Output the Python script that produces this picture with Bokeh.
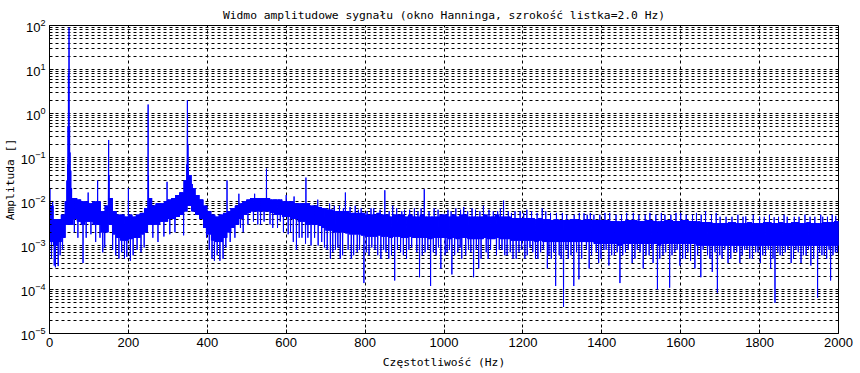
import numpy as np
from bokeh.plotting import figure
from bokeh.models import Range1d, FixedTicker, LogTickFormatter
from bokeh.embed import file_html
from bokeh.resources import INLINE

# ---------------- data ----------------
MILLI = 1e-3          # band values below are in units of 1e-3
BIN_HZ = 10           # width of one band bin (Hz)
STEP_HZ = 0.5         # spectral line spacing (Hz)

# upper / lower edge of the dense noise band, one value per 10 Hz bin (x1e-3)
band_hi = [8, 4, 4, 5, 10, 12, 12, 11, 10, 10,
           9, 10, 10, 6, 8, 12, 6, 5, 5, 4.5,
           5, 4.5, 5, 5.5, 7, 12, 8, 9, 9, 10,
           11, 12, 14, 16, 30, 40, 20, 14, 11, 8,
           6, 5, 4.5, 5, 5.5, 6, 7, 8, 9, 10,
           11, 12, 12, 12, 12, 12, 11, 11, 11, 10,
           10, 10, 9, 9, 9, 9, 8, 8, 7.5, 7,
           6.5, 6.5, 6, 6, 6, 6, 5.5, 5.5, 5.5, 5.5,
           5, 5, 5, 5.5, 5, 5, 4.5, 5, 5, 5,
           4.5, 5, 4.5, 4.5, 5, 4.5, 4.5, 4.5, 4.5, 5,
           5, 4.5, 5, 4.5, 5, 5, 4.5, 4.5, 4.5, 4.5,
           5, 4.5, 4.5, 5, 4.5, 4.5, 4.5, 4.2, 4.2, 4.2,
           4.2, 4.2, 4.2, 4, 4.2, 4, 4, 3.8, 4, 3.8,
           3.8, 3.8, 4, 4, 3.8, 3.8, 4, 3.8, 3.8, 3.8,
           3.8, 3.8, 3.6, 3.6, 3.5, 3.6, 3.8, 3.8, 3.8, 3.6,
           3.6, 3.8, 3.8, 3.6, 3.5, 3.6, 3.8, 3.8, 3.6, 3.6,
           3.8, 3.8, 3.6, 3.6, 3.5, 3.4, 3.4, 3.4, 3.2, 3.2,
           3.2, 3.2, 3.4, 3.4, 3.2, 3.2, 3.2, 3.4, 3.2, 3.2,
           3.2, 3.4, 3.4, 3.2, 3.2, 3.4, 3.2, 3.2, 3.4, 3.4,
           3.2, 3.2, 3.4, 3.2, 3.2, 3.2, 3.4, 3.4, 3.4, 3.6]

band_lo = [1.2, 1.0, 1.2, 1.5, 3, 3, 4, 3.5, 3, 3.5,
           3.5, 3, 3, 2, 2, 3, 1.8, 1.5, 1.3, 1.3,
           1.4, 1.5, 1.5, 1.8, 2, 3, 3, 3, 3.5, 3.5,
           4, 4, 4.5, 5, 6, 8, 6, 5, 4, 2.5,
           1.8, 1.3, 1.2, 1.2, 1.5, 2, 2.5, 3, 4, 5,
           5.5, 6, 6, 6, 6, 6, 5.5, 5, 5, 4.5,
           4.5, 4, 4, 3.5, 3.5, 3, 3, 3, 2.8, 2.5,
           2.2, 2.2, 2, 2, 2, 1.9, 1.8, 1.8, 1.8, 1.7,
           1.6, 1.6, 1.6, 1.7, 1.6, 1.6, 1.5, 1.6, 1.6, 1.5,
           1.5, 1.6, 1.5, 1.5, 1.5, 1.5, 1.4, 1.5, 1.5, 1.5,
           1.5, 1.4, 1.5, 1.4, 1.5, 1.5, 1.4, 1.4, 1.4, 1.4,
           1.5, 1.4, 1.4, 1.5, 1.4, 1.4, 1.4, 1.3, 1.3, 1.3,
           1.3, 1.3, 1.3, 1.2, 1.3, 1.2, 1.2, 1.2, 1.2, 1.2,
           1.2, 1.2, 1.2, 1.2, 1.2, 1.2, 1.2, 1.2, 1.1, 1.1,
           1.1, 1.1, 1.1, 1.1, 1.0, 1.1, 1.1, 1.1, 1.1, 1.1,
           1.1, 1.1, 1.1, 1.1, 1.0, 1.1, 1.1, 1.1, 1.1, 1.1,
           1.1, 1.1, 1.1, 1.1, 1.0, 1.0, 1.0, 1.0, 1.0, 1.0,
           1.0, 1.0, 1.0, 1.0, 1.0, 1.0, 1.0, 1.0, 1.0, 1.0,
           1.0, 1.0, 1.0, 1.0, 1.0, 1.0, 1.0, 1.0, 1.0, 1.0,
           1.0, 1.0, 1.0, 1.0, 1.0, 1.0, 1.0, 1.0, 1.0, 1.0]

# deep narrow downward spikes (Hz, amplitude)
dip_hz = [5, 12, 15, 22, 27, 33, 63, 72, 85, 93, 105, 117, 128, 135, 140,
          160, 168, 176, 183, 190, 196, 205, 212, 222, 232, 240,
          262, 275, 290, 305, 318, 340,
          398, 405, 412, 418, 425, 432, 440, 447, 458, 470,
          535, 585, 605, 618, 626, 640, 649, 672, 690,
          712, 725, 737, 750, 765, 780, 797, 810, 825, 840, 860, 875, 890,
          905, 918, 925, 938, 952, 966, 980, 992,
          1008, 1020, 1035, 1045, 1062, 1075, 1088, 1100, 1112, 1125, 1140,
          1160, 1175, 1190, 1205, 1218, 1232, 1245, 1262, 1272, 1283, 1292,
          1303, 1315,
          1329, 1342, 1355, 1368, 1380, 1392, 1405, 1418, 1432, 1446, 1460,
          1477, 1490, 1505, 1520, 1530, 1541, 1555, 1572, 1585, 1598, 1612,
          1625, 1636,
          1651, 1668, 1680, 1693, 1705, 1720, 1735, 1750, 1762, 1775, 1790,
          1802, 1815, 1828, 1839, 1852, 1865, 1880, 1892, 1905, 1918, 1930,
          1947, 1958, 1970, 1980, 1992]
dip_amp = [5e-4, 3.5e-4, 3.2e-4, 3.4e-4, 6e-4, 8e-4, 2e-3, 1.5e-3, 4e-4, 1.5e-3,
           1.8e-3, 1.2e-3, 1.5e-3, 7e-4, 9e-4,
           8e-4, 6e-4, 5e-4, 7e-4, 5e-4, 5.5e-4, 4.5e-4, 6e-4, 8e-4, 7e-4, 9e-4,
           1.5e-3, 1.2e-3, 1.6e-3, 1.8e-3, 2e-3, 1.7e-3,
           1.5e-3, 8e-4, 5e-4, 4.5e-4, 6e-4, 4.5e-4, 5e-4, 9e-4, 1.2e-3, 1.5e-3,
           3e-3, 3.5e-3, 1.8e-3, 1.2e-3, 8e-4, 1.5e-3, 1.1e-3, 1.5e-3, 1.2e-3,
           5e-4, 8e-4, 5e-4, 9e-4, 5e-4, 7e-4, 1.4e-4, 6e-4, 8e-4, 5e-4, 5e-4,
           1.6e-4, 7e-4,
           5e-4, 9e-4, 6e-4, 1.9e-4, 7e-4, 1.2e-4, 6e-4, 3e-4,
           7e-4, 2.2e-4, 7e-4, 5e-4, 8e-4, 1.9e-4, 3e-4, 6e-4, 5e-4, 4e-4, 8e-4,
           6e-4, 5e-4, 7e-4, 5e-4, 9e-4, 5e-4, 7e-4, 3e-4, 5e-4, 1.2e-4, 6e-4,
           4e-5, 5e-4,
           1.2e-4, 1.7e-4, 6e-4, 3e-4, 7e-4, 4e-4, 8e-4, 3.5e-4, 6e-4, 1.4e-4,
           7e-4, 4e-4, 8e-4, 3e-4, 6e-4, 4e-4, 1e-4, 6e-4, 1.1e-4, 7e-4, 3.5e-4,
           5e-4, 4.5e-4, 3e-4,
           1.9e-4, 6e-4, 2.5e-4, 8.5e-5, 5e-4, 4e-4, 7e-4, 4e-4, 8e-4, 5e-4,
           7e-4, 4e-4, 6e-4, 3e-4, 5e-5, 6e-4, 7e-4, 4e-4, 8e-4, 4e-4, 6e-4,
           3.5e-4, 6.5e-5, 6e-4, 5e-4, 1.6e-4, 7e-4]

# shallower downward spikes along the lower edge of the band (Hz, amplitude)
minor_dip_hz = [484, 491, 503, 517, 528, 544, 559, 566, 578, 593, 611, 633,
                655, 663, 681, 697, 704, 718, 731, 743, 757, 771, 786, 803,
                817, 832, 847, 853, 867, 882, 897, 911, 931, 945, 959, 973,
                986, 1003, 1014, 1027, 1041, 1055, 1068, 1082, 1094, 1107,
                1118, 1133, 1147, 1154, 1168, 1183, 1197, 1211, 1225, 1238,
                1252, 1266, 1278, 1297, 1309, 1322, 1336, 1349, 1361, 1374,
                1386, 1398, 1411, 1425, 1439, 1453, 1467, 1484, 1497, 1512,
                1526, 1547, 1562, 1578, 1591, 1605, 1618, 1643, 1657, 1674,
                1687, 1699, 1712, 1727, 1742, 1756, 1768, 1782, 1796, 1808,
                1822, 1834, 1846, 1858, 1872, 1886, 1898, 1911, 1924, 1937,
                1952, 1964, 1976, 1986, 1997]
minor_dip_amp = [2.5e-3, 2e-3, 3e-3, 3.5e-3, 3e-3, 3.5e-3, 3e-3, 2.5e-3, 2.5e-3,
                 2e-3, 2e-3, 1.5e-3, 1.5e-3, 1e-3, 1e-3, 9e-4, 8e-4, 7e-4,
                 9e-4, 6e-4, 8e-4, 6e-4, 8e-4, 7e-4, 9e-4, 6e-4, 8e-4, 7e-4,
                 6e-4, 8e-4, 6e-4, 8e-4, 7e-4, 6e-4, 8e-4, 7e-4, 9e-4, 6e-4,
                 8e-4, 6e-4, 9e-4, 6e-4, 7e-4, 8e-4, 5e-4, 7e-4, 8e-4, 6e-4,
                 8e-4, 6e-4, 7e-4, 5e-4, 8e-4, 6e-4, 7e-4, 5e-4, 8e-4, 6e-4,
                 7e-4, 5e-4, 8e-4, 6e-4, 7e-4, 5e-4, 8e-4, 6e-4, 7e-4, 5e-4,
                 8e-4, 6e-4, 7e-4, 6e-4, 8e-4, 5e-4, 7e-4, 6e-4, 8e-4, 5e-4,
                 7e-4, 6e-4, 8e-4, 5e-4, 7e-4, 6e-4, 8e-4, 5e-4, 7e-4, 6e-4,
                 8e-4, 5e-4, 7e-4, 6e-4, 8e-4, 5e-4, 7e-4, 6e-4, 8e-4, 5e-4,
                 7e-4, 6e-4, 8e-4, 5e-4, 7e-4, 6e-4, 8e-4, 5e-4, 7e-4, 6e-4,
                 8e-4, 6e-4, 7e-4]

# narrow upward spikes / harmonic peaks (Hz, amplitude)
peak_hz = [0, 1, 8, 44, 46, 47, 48, 49, 49.5, 50, 51, 52, 54, 56,
           98, 122, 149.5, 150, 151, 200, 249.5, 250, 251, 298,
           345, 348, 349, 349.5, 350, 351, 352, 355, 358, 362,
           450, 480, 520, 550, 600, 620, 650, 680,
           710, 735, 750, 775, 790, 815, 850, 870, 900, 925, 950, 975,
           1010, 1030, 1050, 1080, 1100, 1125, 1151, 1180, 1210, 1249, 1270,
           1300, 1330, 1355, 1380, 1420, 1450, 1480, 1510, 1560, 1600, 1630,
           1663, 1700, 1730, 1765, 1800, 1837, 1870, 1900, 1940, 1960, 1993]
peak_amp = [0.05, 0.02, 0.01, 0.03, 0.07, 0.5, 8, 30, 90, 30, 0.5, 0.13, 0.05, 0.02,
            1.6e-2, 3e-2, 0.06, 0.25, 0.04, 2e-2, 0.05, 1.6, 0.04, 2.8e-2,
            0.03, 0.07, 0.28, 2.0, 0.6, 0.2, 0.06, 0.04, 0.03, 0.025,
            3e-2, 1.5e-2, 1.5e-2, 5.6e-2, 1.4e-2, 1.3e-2, 3.5e-2, 1.1e-2,
            9e-3, 8e-3, 1.6e-2, 8e-3, 7e-3, 7e-3, 1.8e-2, 8e-3, 6.5e-3, 7e-3,
            1.9e-2, 7e-3,
            6.5e-3, 7e-3, 7.5e-3, 6.5e-3, 8e-3, 6e-3, 1.05e-2, 6e-3, 6.5e-3,
            7e-3, 5.5e-3,
            5.5e-3, 5e-3, 5.4e-3, 5e-3, 5.5e-3, 5e-3, 5.5e-3, 5e-3, 5e-3,
            5.5e-3, 5e-3,
            6e-3, 4.5e-3, 4.5e-3, 4.6e-3, 4.5e-3, 4.4e-3, 4.5e-3, 4.5e-3,
            4.5e-3, 4.5e-3, 4.7e-3]

# small upward spikes along the upper edge of the band (Hz, amplitude)
minor_peak_hz = [703, 722, 745, 762, 783, 805, 822, 838, 861, 880, 893, 913,
                 934, 942, 962, 985, 1018, 1042, 1060, 1071, 1091, 1114, 1136,
                 1143, 1163, 1171, 1193, 1202, 1222, 1236, 1258, 1285, 1311,
                 1343, 1363, 1371, 1395, 1408, 1436, 1463, 1494, 1522, 1537,
                 1551, 1575, 1588, 1614, 1640, 1652, 1678, 1690, 1715, 1745,
                 1758, 1784, 1812, 1825, 1848, 1862, 1888, 1915, 1928, 1955,
                 1972, 1984]
minor_peak_amp = [7e-3, 8e-3, 7e-3, 7.5e-3, 6.5e-3, 6e-3, 7e-3, 6.5e-3, 6e-3,
                  7e-3, 6e-3, 6.5e-3, 6e-3, 7e-3, 6e-3, 6.5e-3, 6e-3, 6.5e-3,
                  6e-3, 7e-3, 6e-3, 6.5e-3, 6e-3, 7e-3, 6e-3, 5.5e-3, 6e-3,
                  5.5e-3, 6e-3, 5.5e-3, 6e-3, 5.5e-3, 5e-3, 5.5e-3, 5e-3,
                  5.5e-3, 5e-3, 5.5e-3, 5e-3, 5.5e-3, 5e-3, 5.5e-3, 5e-3,
                  5.5e-3, 5e-3, 5.5e-3, 5e-3, 5.5e-3, 5e-3, 5e-3, 5.5e-3,
                  4.5e-3, 5e-3, 4.5e-3, 5e-3, 4.5e-3, 5e-3, 4.5e-3, 5e-3,
                  4.5e-3, 5e-3, 4.5e-3, 5e-3, 4.5e-3, 5e-3]

x_ticks = [0, 200, 400, 600, 800, 1000, 1200, 1400, 1600, 1800, 2000]
y_decades = [1e-5, 1e-4, 1e-3, 1e-2, 1e-1, 1e0, 1e1, 1e2]

title_text = "Widmo amplitudowe sygnału (okno Hanninga, szrokość listka=2.0 Hz)"
x_label = "Częstotliwość (Hz)"
y_label = "Amplituda []"

# ---------------- build the spectral line ----------------
freq = np.arange(0, int(2000 / STEP_HZ) + 1) * STEP_HZ
hi = np.array(band_hi) * MILLI
lo = np.array(band_lo) * MILLI
bin_idx = np.minimum((freq // BIN_HZ).astype(int), len(hi) - 1)
amp = np.where(np.arange(freq.size) % 2 == 0, hi[bin_idx], lo[bin_idx])
for hz_list, amp_list in ((minor_dip_hz, minor_dip_amp),
                          (minor_peak_hz, minor_peak_amp),
                          (dip_hz, dip_amp),
                          (peak_hz, peak_amp)):
    for fr, a in zip(hz_list, amp_list):
        amp[int(round(fr / STEP_HZ))] = a

# ---------------- figure ----------------
MONO = "DejaVu Sans Mono"
SANS = "Liberation Sans"

p = figure(frame_width=789, frame_height=308,
           x_range=Range1d(0, 2000), y_range=Range1d(1e-5, 1e2),
           y_axis_type="log", output_backend="svg", toolbar_location=None,
           min_border_left=49, min_border_right=22,
           min_border_top=25, min_border_bottom=40,
           background_fill_color="white", border_fill_color="white")

p.line(freq, amp, line_color="#0000ff", line_width=1)

p.title.text = title_text
p.title.align = "center"
p.title.text_font = MONO
p.title.text_font_size = "11.3px"
p.title.text_font_style = "normal"
p.title.text_color = "black"
p.title.standoff = 8

y_minor = [m * 10.0 ** k for k in range(-5, 2) for m in range(2, 10)]
grid_y = [m * 10.0 ** k for k in range(-5, 2) for m in range(1, 10)] + [100.0]

p.xgrid.ticker = FixedTicker(ticks=x_ticks)
p.ygrid.ticker = FixedTicker(ticks=grid_y)
for g in (p.xgrid, p.ygrid):
    g.grid_line_color = "black"
    g.grid_line_alpha = 1.0
    g.grid_line_dash = "3 3"
    g.grid_line_width = 1

p.xaxis.ticker = FixedTicker(ticks=x_ticks, minor_ticks=[])
p.yaxis.ticker = FixedTicker(ticks=y_decades, minor_ticks=y_minor)
p.yaxis.formatter = LogTickFormatter()

for ax in (p.xaxis, p.yaxis):
    ax.axis_line_color = "black"
    ax.major_tick_line_color = "black"
    ax.minor_tick_line_color = "black"
    ax.major_tick_in = 4
    ax.major_tick_out = 0
    ax.minor_tick_in = 2
    ax.minor_tick_out = 0
    ax.major_label_text_font = SANS
    ax.major_label_text_font_size = "13px"
    ax.major_label_text_color = "black"
    ax.axis_label_text_font = MONO
    ax.axis_label_text_font_size = "11.3px"
    ax.axis_label_text_font_style = "normal"
    ax.axis_label_text_color = "black"

p.xaxis.axis_label = x_label
p.yaxis.axis_label = y_label
p.xaxis.major_label_standoff = 4
p.yaxis.major_label_standoff = 4
p.xaxis.axis_label_standoff = 6
p.yaxis.axis_label_standoff = 1

p.outline_line_color = "black"
p.outline_line_alpha = 1.0

open("out.html", "w").write(file_html(p, INLINE))
